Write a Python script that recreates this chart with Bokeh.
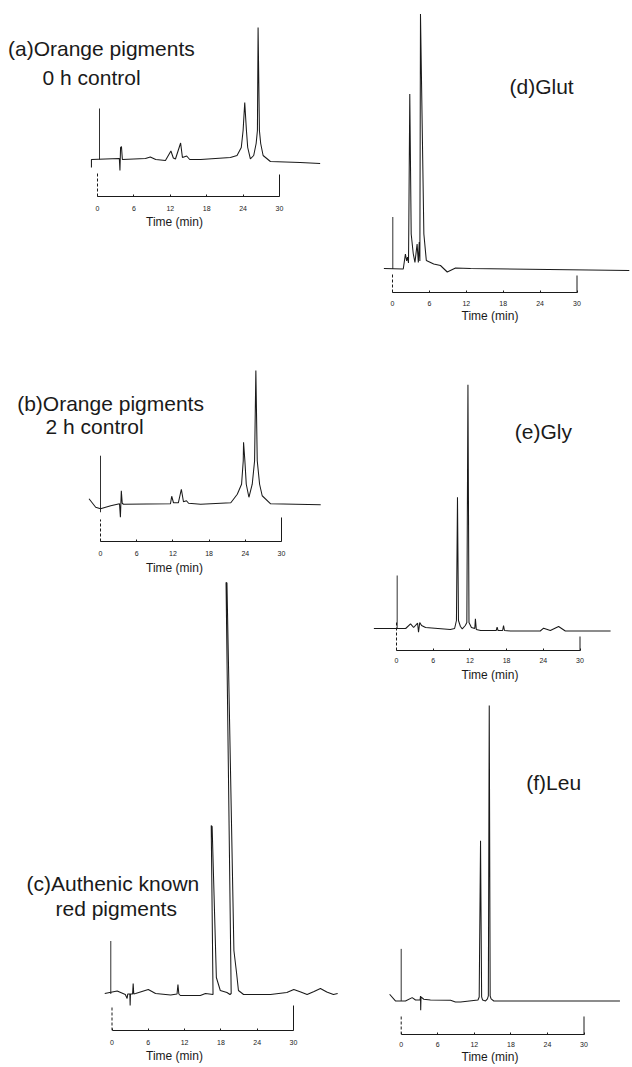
from bokeh.plotting import figure
from bokeh.layouts import row, column
from bokeh.models import Range1d, LinearAxis, FixedTicker
from bokeh.core.properties import value
from bokeh.embed import file_html
from bokeh.resources import INLINE

# ---------------- data (time in min, detector signal in arbitrary units) ----------------
tick_values = [0, 6, 12, 18, 24, 30]
axis_title = "Time (min)"

panel_labels = [
    ["(a)Orange pigments", "0 h control"],
    ["(b)Orange pigments", "2 h control"],
    ["(c)Authenic known", "red pigments"],
    ["(d)Glut"],
    ["(e)Gly"],
    ["(f)Leu"],
]

a_time = [-1.0, -1.0, 3.6, 3.7, 3.8, 3.95, 4.1, 7.9, 8.7, 9.6, 11.2, 12.1, 12.5, 12.85,
          13.7, 14.0, 14.7, 15.2, 17.0, 21.9, 23.0, 23.7, 24.0, 24.27, 24.55, 24.76, 25.2,
          25.75, 26.15, 26.36, 26.47, 26.69, 26.9, 27.3, 28.5, 33.4, 36.7]
a_signal = [-8, 0, 1, -11, 12, 13, 0, 1, 2.5, 0, -1, 8.5, 1.5, 0.5,
            16.5, 2, 3.5, 0, 0, 2, 4, 12, 29, 57, 29, 12, 0.7,
            4, 16, 29, 132, 29, 16, 4, -2, -3, -4]

b_time = [-1.9, -0.8, 0.0, 1.7, 3.15, 3.3, 3.45, 3.6, 3.8, 11.6, 11.8, 12.1, 12.9, 13.4,
          13.75, 14.25, 14.6, 16.6, 21.6, 22.67, 23.38, 23.66, 23.71, 23.93, 24.16, 24.6,
          25.15, 25.54, 25.75, 25.98, 26.37, 26.8, 28.2, 36.5]
b_signal = [5.5, -3, -4.5, -1.5, 0.5, -13, 13.5, 1, 0, 0.5, 8, 1.5, 1.5, 15,
            2.5, 3.5, 1, 0, 1.5, 10, 20, 43.5, 62, 43.5, 20, 7,
            20, 43.5, 133.5, 43.5, 20, 8.5, 0.5, -0.5]

c_time = [-1.2, 0.86, 2.2, 2.5, 2.6, 2.95, 3.0, 3.05, 3.4, 3.5, 3.6, 3.9, 6.0, 7.2, 9.7,
          10.75, 10.9, 11.05, 11.3, 14.6, 15.45, 16.7, 16.4, 16.55, 17.25, 17.9, 19.0,
          19.5, 19.7, 18.85, 19.0, 20.15, 20.6, 20.9, 21.75, 26.2, 28.9, 30.05, 31.2,
          32.25, 33.4, 34.45, 35.5, 36.6, 37.3]
c_signal = [0.5, 3, -0.5, -4.5, 0, 0, -11.5, 0, 0, 10.5, 0, 0.5, 4.5, 0.5, -1,
            0, 9.5, 0, -1.5, -1.5, 0.5, -0.5, 168.5, 167.5, 16.5, 3.5, 1.5,
            -0.5, 0.5, 411.5, 411, 43.5, 20.5, 3.5, -0.5, -0.5, 1.5, 4.5, 2,
            -0.5, 2.5, 5.5, 2, -0.5, 0.5]

d_time = [-1.4, 1.75, 2.1, 2.3, 2.45, 2.6, 2.65, 2.81, 3.04, 3.37, 3.65, 4.0, 4.2, 4.35,
          4.45, 4.55, 5.1, 5.5, 6.7, 7.8, 8.9, 10.25, 12.7, 38.5]
d_signal = [0.5, 0, 15, 8, 12, 6, 42, 175, 35, 15.5, 6.5, 25, 6.5, 27,
            8, 255, 35, 8.5, 5, 3.5, -3, 1, 0.5, -1.5]

e_time = [-3.7, 1.5, 2.3, 2.8, 3.45, 3.6, 3.8, 4.1, 4.75, 8.8, 9.5, 9.8, 9.97, 10.13,
          10.45, 10.75, 11.25, 11.5, 11.68, 11.85, 12.25, 12.8, 12.9, 13.05, 13.75,
          16.3, 16.45, 16.6, 17.35, 17.5, 17.65, 18.6, 23.5, 24.05, 25.15, 26.5, 27.6, 35.0]
e_signal = [0, 0, 4.7, 1, 5.3, -3.7, 6, 3, 1, -1, 0, 8, 131.3, 8,
            2, -0.3, 3, 6, 243.7, 6, 1, 0, 9.7, -1, -2,
            -2, 1.3, -2, -2, 3, -2, -2.5, -2.5, 0.3, -2, 2, -2.5, -2.5]

f_time = [-1.9, -0.95, 0.7, 1.8, 2.35, 3.1, 3.17, 3.2, 3.25, 3.7, 4.8, 8.1, 8.9, 9.75,
          12.6, 12.8, 13.02, 13.2, 13.35, 13.85, 14.15, 14.3, 14.45, 14.6, 14.75, 15.2,
          19.6, 35.9]
f_signal = [6.7, 0, 0, 3.3, 1, 1, 5, -9.3, 4, 1.7, 1, 0.7, -1, -1,
            1, 4, 160, 4, 1, 0, 2, 5, 295, 5, 2, 0,
            0, 0]

# injection marks (time, low, high signal)
inject_time = [0.33, 0.0, -0.2, 0.05, 0.11, 0.0]
inject_low = [0, -8, 0, 0, 0, 0]
inject_high = [51, 48.5, 53, 52, 53, 52]

# ---------------- layout (page pixels) ----------------
GEO = [
    dict(left=0, top=0, w=348, h=240, x0=97, x30=279, axis_y=196, base_y=159,
         t0=23, t30=22, ls=9, als=1, lab=[(7.5, 48), (42, 76.5)]),
    dict(left=0, top=240, w=348, h=340, x0=100, x30=281, axis_y=540.7, base_y=503.5,
         t0=22, t30=24, ls=9, als=2, lab=[(16.7, 403), (45, 426)]),
    dict(left=0, top=580, w=348, h=486, x0=111.5, x30=293, axis_y=1030, base_y=993.5,
         t0=23, t30=25, ls=9, als=1, lab=[(26, 883), (55, 907.5)]),
    dict(left=348, top=0, w=283, h=335, x0=392, x30=576.5, axis_y=292, base_y=268.5,
         t0=18, t30=17, ls=8, als=0, lab=[(509, 85.5)]),
    dict(left=348, top=335, w=283, h=355, x0=396, x30=579.5, axis_y=650, base_y=628,
         t0=30, t30=14, ls=7, als=2, lab=[(514.3, 431)]),
    dict(left=348, top=690, w=283, h=376, x0=400.7, x30=583.5, axis_y=1033.5, base_y=1000,
         t0=18, t30=18, ls=7, als=0, lab=[(525.7, 782)]),
]

INK = "#1a1a1a"
FONT = "Liberation Sans"


def panel(t, s, k, g):
    ppm = (g["x30"] - g["x0"]) / 30.0

    def dx(px):
        return (px - g["x0"]) / ppm

    def dy(py):
        return g["base_y"] - py

    bottom = g["top"] + g["h"]
    p = figure(width=g["w"], height=g["h"],
               x_range=Range1d(dx(g["left"]), dx(g["left"] + g["w"])),
               y_range=Range1d(dy(g["axis_y"]), dy(g["top"])),
               x_axis_type=None, y_axis_type=None,
               output_backend="svg", toolbar_location=None,
               min_border_left=0, min_border_right=0, min_border_top=0,
               min_border_bottom=int(round(bottom - g["axis_y"])))
    p.outline_line_color = None
    p.background_fill_color = "white"
    p.border_fill_color = "white"

    ax = LinearAxis(ticker=FixedTicker(ticks=tick_values), bounds=(0, 30), axis_label=axis_title)
    ax.axis_line_color = INK
    ax.axis_line_width = 1
    ax.major_tick_in = 2
    ax.major_tick_out = 0
    ax.major_tick_line_color = INK
    ax.minor_tick_line_color = None
    ax.major_label_text_font = FONT
    ax.major_label_text_font_size = "7px"
    ax.major_label_text_color = INK
    ax.major_label_standoff = g["ls"]
    ax.axis_label_text_font = FONT
    ax.axis_label_text_font_size = "12px"
    ax.axis_label_text_font_style = "normal"
    ax.axis_label_text_color = INK
    ax.axis_label_standoff = g["als"]
    p.add_layout(ax, "below")

    y_ax = dy(g["axis_y"])
    p.segment(x0=[30], y0=[y_ax], x1=[30], y1=[y_ax + g["t30"]], line_color=INK, line_width=1)
    p.segment(x0=[0], y0=[y_ax], x1=[0], y1=[y_ax + g["t0"]], line_color=INK, line_width=1,
              line_dash="3 2")
    p.segment(x0=[inject_time[k]], y0=[inject_low[k]], x1=[inject_time[k]], y1=[inject_high[k]],
              line_color=INK, line_width=0.9)
    p.line(t, s, line_color=INK, line_width=1.05)

    for text, (lx, ly) in zip(panel_labels[k], g["lab"]):
        p.text(x=[dx(lx)], y=[dy(ly)], text=[text], text_font=value(FONT),
               text_font_size="21px", text_baseline="alphabetic", text_align="left",
               text_color=INK)
    return p


series = [(a_time, a_signal), (b_time, b_signal), (c_time, c_signal),
          (d_time, d_signal), (e_time, e_signal), (f_time, f_signal)]
figs = [panel(t, s, k, GEO[k]) for k, (t, s) in enumerate(series)]

layout = row(column(figs[0], figs[1], figs[2], spacing=0),
             column(figs[3], figs[4], figs[5], spacing=0), spacing=0)

with open("out.html", "w") as fh:
    fh.write(file_html(layout, INLINE))
